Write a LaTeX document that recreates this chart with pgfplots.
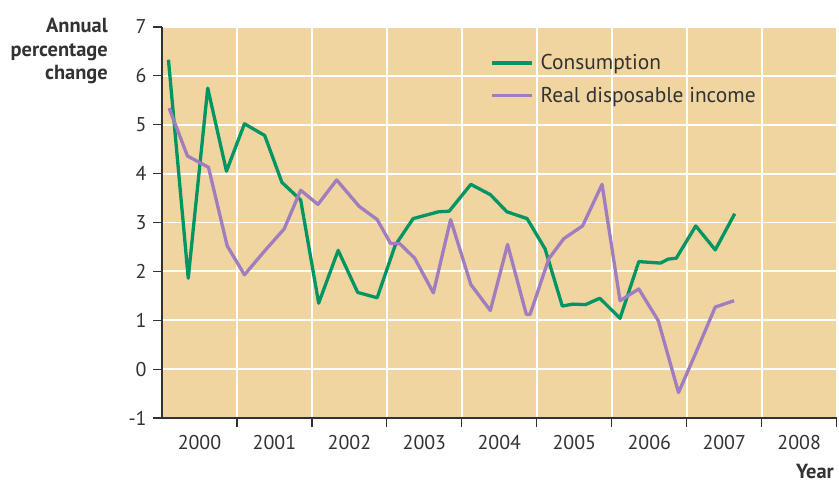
\documentclass[border=0pt]{standalone}
\usepackage{fontspec}
\setmainfont{PT Sans}
\usepackage{pgfplots}
\pgfplotsset{compat=1.18}
\definecolor{bg}{RGB}{240,213,160}
\definecolor{cons}{RGB}{0,150,100}
\definecolor{inc}{RGB}{160,125,190}
\definecolor{axc}{RGB}{50,50,50}
\begin{document}
\begin{tikzpicture}
\begin{axis}[
  at={(0,0)}, anchor=south west,
  scale only axis, width=674.7bp, height=391bp,
  xmin=2000, xmax=2009, ymin=-1, ymax=7,
  axis lines=left, axis line style={-, axc, line width=1.2bp},
  axis background/.style={fill=bg},
  xtick={2001,...,2009}, xticklabels={},
  ytick={-1,0,...,7}, yticklabels={-1,0,1,2,3,4,5,6,7},
  tick style={axc, line width=1.2bp},
  major tick length=9bp,
  tick align=outside,
  grid=major, grid style={white, line width=1.8bp},
  extra x ticks={2000.5,2001.5,2002.5,2003.5,2004.5,2005.5,2006.5,2007.5,2008.5},
  extra x tick labels={2000,2001,2002,2003,2004,2005,2006,2007,2008},
  extra x tick style={grid=none, major tick length=0pt, tick label style={yshift=-14bp}},
  tick label style={font=\fontsize{20}{23}\selectfont, text=axc},
  yticklabel style={xshift=-3bp},
  clip=false,
  legend style={at={(0.482,0.94)}, anchor=north west, draw=none, fill=none,
    font=\fontsize{21.5}{25}\selectfont, text=axc, row sep=12bp, column sep=5bp},
  legend cell align=left,
  legend image code/.code={\draw[#1] (0bp,0bp) -- (40bp,0bp);},
]
\addplot[cons, line width=3.3bp, line join=round] coordinates {
(2000.086,6.33)(2000.35,1.86)(2000.61,5.75)(2000.86,4.05)(2001.10,5.02)(2001.37,4.78)(2001.60,3.82)(2001.85,3.46)(2002.09,1.35)(2002.35,2.43)(2002.61,1.57)(2002.87,1.46)(2003.11,2.53)(2003.35,3.08)(2003.69,3.22)(2003.83,3.23)(2004.12,3.78)(2004.38,3.57)(2004.60,3.22)(2004.87,3.08)(2005.11,2.46)(2005.34,1.29)(2005.48,1.33)(2005.65,1.32)(2005.84,1.45)(2006.11,1.04)(2006.36,2.20)(2006.65,2.17)(2006.75,2.25)(2006.86,2.27)(2007.12,2.93)(2007.38,2.44)(2007.64,3.18)
};
\addlegendentry{Consumption}
\addplot[inc, line width=3.3bp, line join=round] coordinates {
(2000.095,5.34)(2000.34,4.36)(2000.62,4.13)(2000.87,2.52)(2001.10,1.93)(2001.37,2.42)(2001.63,2.87)(2001.85,3.66)(2002.08,3.37)(2002.33,3.87)(2002.63,3.33)(2002.87,3.06)(2003.05,2.57)(2003.17,2.57)(2003.37,2.27)(2003.62,1.56)(2003.85,3.06)(2004.12,1.73)(2004.38,1.20)(2004.61,2.55)(2004.86,1.12)(2004.91,1.12)(2005.16,2.26)(2005.36,2.67)(2005.61,2.93)(2005.87,3.78)(2006.11,1.40)(2006.36,1.64)(2006.62,0.99)(2006.89,-0.48)(2007.12,0.33)(2007.38,1.27)(2007.63,1.40)
};
\addlegendentry{Real disposable income}
\end{axis}
\begin{scope}[every node/.style={inner sep=0pt, text=axc, font=\bfseries\fontsize{20.5}{23}\selectfont}]
\node[anchor=base east] at (-54bp,385bp) {Annual};
\node[anchor=base east] at (-54bp,361.5bp) {percentage};
\node[anchor=base east] at (-54bp,338bp) {change};
\node[anchor=base east] at (672bp,-60bp) {Year};
\end{scope}
\pgfresetboundingbox
\path[use as bounding box] (-162bp,-65bp) rectangle (677bp,418bp);
\end{tikzpicture}
\end{document}
